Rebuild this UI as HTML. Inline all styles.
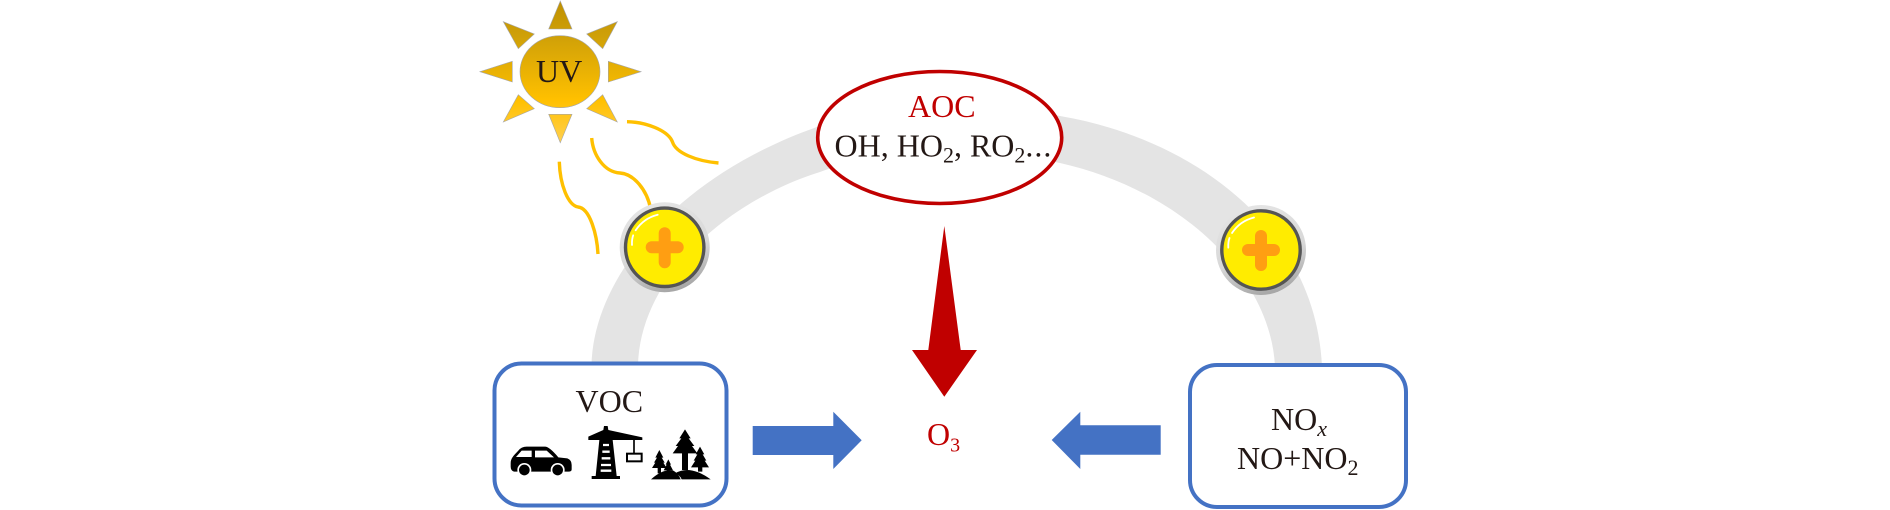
<!DOCTYPE html>
<html><head><meta charset="utf-8"><style>
html,body{margin:0;padding:0;background:#fff;width:1890px;height:510px;overflow:hidden}
svg{display:block}
text{font-family:"Liberation Serif",serif;fill:#231815}
</style></head><body>
<svg width="1890" height="510" viewBox="0 0 1890 510" xmlns="http://www.w3.org/2000/svg">
<defs>
<linearGradient id="sun" gradientUnits="userSpaceOnUse" x1="0" y1="0" x2="0" y2="143">
<stop offset="0" stop-color="#bf9000"/><stop offset=".25" stop-color="#cfa008"/><stop offset=".7" stop-color="#ffc000"/><stop offset="1" stop-color="#ffd050"/></linearGradient>
<linearGradient id="halo" x1="0.2" y1="0" x2="0.5" y2="1"><stop offset="0" stop-color="#e6e6e6"/><stop offset=".6" stop-color="#d8d8d8"/><stop offset="1" stop-color="#a8a8a8"/></linearGradient>
<g id="plus">
<circle r="45" fill="url(#halo)"/>
<circle r="39.2" fill="#ffec00" stroke="#555" stroke-width="3.4"/>
<path d="M-32.7 -2.300 Q-33 -8 -31.500 -12" fill="none" stroke="#fff" stroke-width="1.800" stroke-linecap="round"/>
<path d="M-29 -17 Q-21 -29 -7 -32.500" fill="none" stroke="#fff" stroke-width="1.800" stroke-linecap="round"/>
<rect x="-19" y="-6" width="38" height="12" rx="6" fill="#ff9e12"/>
<rect x="-6" y="-20" width="12" height="41" rx="6" fill="#ff9e12"/>
</g>
</defs>

<path fill="#e4e4e4" d="M591.500 366 C593 275 680 175 817 127 C880 105 985 100 1060 116 C1190 138 1315 225 1322 366 L1275 366 C1270 275 1180 190 1060 163 C980 145 890 145 820 172 C730 200 640 275 638 366 Z"/>

<g fill="url(#sun)" stroke="#a6a6a6" stroke-width=".6">
<polygon points="560.300,1 548.700,29 572,29"/>
<polygon points="560.300,142.700 548.700,114.300 572,114.300"/>
<polygon points="480,71.700 512.300,61.300 512.300,82"/>
<polygon points="641,71.700 608.300,61.300 608.300,82"/>
<polygon points="503.300,21.700 534.300,34 518.300,48.700"/>
<polygon points="617.300,21.700 586.700,34 602.700,48.700"/>
<polygon points="503.300,122 534.300,108.700 518.300,94.700"/>
<polygon points="617.300,122 586.700,108.700 602.700,94.700"/>
<ellipse cx="560" cy="71.700" rx="40" ry="36"/>
</g>
<text x="536" y="82" font-size="32">UV</text>

<g fill="none" stroke="#ffc000" stroke-width="3.400">
<path d="M627 121.700 C645 122 668 130 672.500 142 C676 153 696 161 718.500 163"/>
<path d="M591.700 138 C593 155 604 172 620 173 C634 174 647 190 650.700 209"/>
<path d="M559.300 161.700 C560 185 568 205 578 207 C590 208 597 235 598 254"/>
</g>

<use href="#plus" x="664.700" y="247.300"/>
<use href="#plus" x="1261" y="250"/>

<ellipse cx="939.700" cy="137.500" rx="122" ry="66" fill="#fff" stroke="#c00000" stroke-width="3.600"/>
<text x="908" y="117" font-size="32" style="fill:#c00000">AOC</text>
<text x="834.500" y="156.500" font-size="32">OH, HO<tspan font-size="22" dy="6">2</tspan><tspan dy="-6">, RO</tspan><tspan font-size="22" dy="6">2</tspan><tspan dy="-6" letter-spacing="1">...</tspan></text>

<polygon points="944.300,226 960.700,350 977,350 944.300,396.700 912,350 928.300,350" fill="#c00000"/>

<text x="927" y="445" font-size="32" style="fill:#c00000">O<tspan font-size="20" dy="6.500">3</tspan></text>

<polygon points="752.700,426 833.300,426 833.300,411.700 861.700,440.300 833.300,469 833.300,455 752.700,455" fill="#4472c4"/>
<polygon points="1160.700,425.300 1080.300,425.300 1080.300,411.700 1051.700,440 1080.300,469 1080.300,454.700 1160.700,454.700" fill="#4472c4"/>

<rect x="494.500" y="363.500" width="232" height="142" rx="27" fill="#fff" stroke="#4472c4" stroke-width="4"/>
<rect x="1190" y="365" width="216" height="142" rx="27" fill="#fff" stroke="#4472c4" stroke-width="4"/>

<text x="575.500" y="412" font-size="32">VOC</text>
<text x="1271" y="430" font-size="32">NO<tspan font-size="22" font-style="italic" dy="6">x</tspan></text>
<text x="1237" y="469" font-size="32">NO+NO<tspan font-size="22" dy="6">2</tspan></text>

<g transform="translate(480 350) scale(.33333)">
<path d="M92 340 C92 325 100 318 115 302 Q124 290 140 290 L195 290 Q208 290 235 322 L262 325 Q275 330 275 345 L275 358 Q275 365 265 365 L102 365 Q92 362 92 350Z" fill="#000"/>
<path d="M108 321 L125 302 L155 302 L155 321Z M165 302 L200 302 L222 322 L165 322Z" fill="#fff"/>
<circle cx="133" cy="360" r="21" fill="#fff"/><circle cx="133" cy="360" r="16" fill="#000"/>
<circle cx="233" cy="360" r="21" fill="#fff"/><circle cx="233" cy="360" r="16" fill="#000"/>

<path d="M372 228 L383 228 L385 240 L487 262 L487 270 L398 270 L410 378 L420 378 L420 387 L335 387 L335 378 L347 378 L358 270 L325 270 L325 260 L370 240Z" fill="#000"/>
<path d="M369 285 L387 285 M367 305 L389 305 M365 325 L391 325 M363 345 L393 345 M362 362 L394 362" stroke="#fff" stroke-width="7"/>
<path d="M462 268 L462 312" stroke="#000" stroke-width="5"/>
<rect x="441" y="311" width="44" height="23" fill="#fff" stroke="#000" stroke-width="6"/>
</g>

<g transform="translate(640 420) scale(.33333)" fill="#000">
<path d="M135 28 L152 55 L146 55 L163 78 L156 78 L172 100 L144 100 L144 150 L126 150 L126 100 L98 100 L114 78 L107 78 L124 55 L118 55Z"/>
<path d="M180 80 L193 103 L188 103 L199 122 L194 122 L207 142 L187 142 L187 155 L174 155 L174 142 L153 142 L166 122 L161 122 L172 103 L167 103Z"/>
<path d="M58 90 L70 113 L65 113 L74 128 L70 128 L80 144 L63 144 L63 160 L53 160 L53 144 L36 144 L46 128 L42 128 L51 113 L46 113Z"/>
<path d="M85 118 L93 134 L90 134 L99 151 L89 151 L89 160 L81 160 L81 151 L71 151 L80 134 L77 134Z"/>
<path d="M33 178 Q70 145 100 152 Q115 160 122 178Z"/>
<path d="M105 160 Q150 133 212 178 L125 178 Q120 165 105 160Z"/>
</g>
</svg>
</body></html>
